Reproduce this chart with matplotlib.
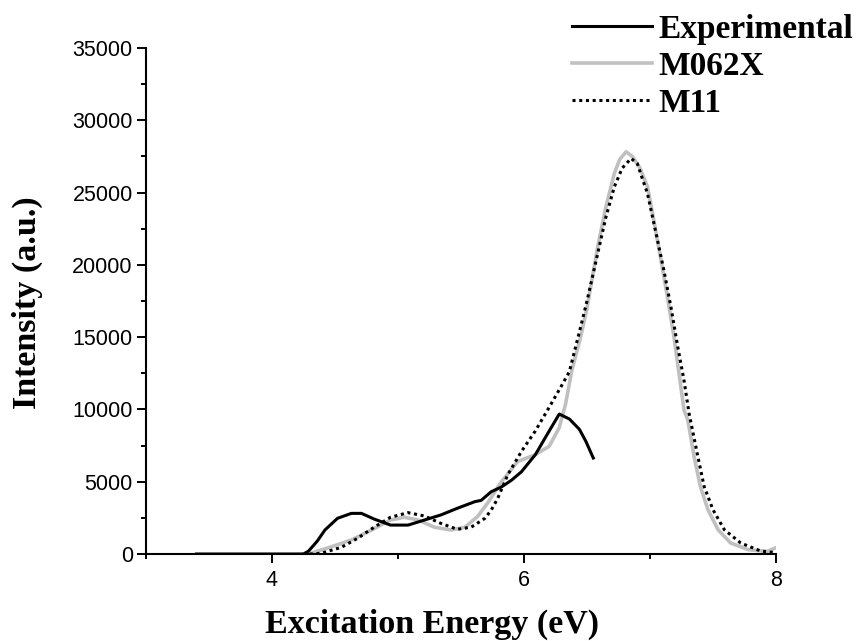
import matplotlib
matplotlib.use("Agg")
import matplotlib.pyplot as plt
from matplotlib.ticker import MultipleLocator

# ---- data ----
exp_x = [3.40, 4.00, 4.25, 4.29, 4.36, 4.42, 4.52, 4.63, 4.71, 4.81, 4.94, 5.08, 5.21, 5.34,
         5.47, 5.61, 5.66, 5.74, 5.82, 5.90, 5.98, 6.09, 6.20, 6.28, 6.36, 6.44, 6.49, 6.55]
exp_y = [0, 0, 0, 200, 900, 1660, 2470, 2810, 2810, 2420, 2000, 2000, 2350, 2700,
         3160, 3620, 3710, 4310, 4630, 5100, 5690, 6870, 8510, 9680, 9340, 8620, 7810, 6640]

m062x_x = [4.25, 4.31, 4.47, 4.63, 4.79, 4.94, 5.05, 5.16, 5.29, 5.42, 5.53, 5.63, 5.71,
           5.82, 5.95, 6.09, 6.20, 6.28, 6.33, 6.38, 6.45, 6.50, 6.585, 6.65, 6.717, 6.76,
           6.81, 6.86, 6.92, 6.98, 7.03, 7.087, 7.14, 7.19, 7.23, 7.27, 7.30, 7.35, 7.40,
           7.46, 7.54, 7.64, 7.78, 7.93, 7.99]
m062x_y = [0, 50, 500, 970, 1660, 2350, 2540, 2350, 1850, 1660, 1850, 2580, 3510,
           4990, 6400, 6870, 7450, 8740, 10380, 12720, 15030, 17000, 21250, 24000, 26330, 27300,
           27820, 27500, 26700, 25400, 23100, 20330, 17700, 15030, 12500, 9960, 9270, 6730, 4660,
           3060, 1680, 760, 300, 180, 400]

m11_x = [4.30, 4.39, 4.55, 4.68, 4.81, 4.94, 5.08, 5.21, 5.34, 5.47, 5.58, 5.69, 5.74,
         5.79, 5.87, 5.98, 6.09, 6.20, 6.30, 6.36, 6.45, 6.50, 6.585, 6.65, 6.717, 6.78,
         6.85, 6.90, 6.93, 6.98, 7.04, 7.11, 7.17, 7.22, 7.27, 7.31, 7.38, 7.43, 7.50,
         7.59, 7.72, 7.88, 7.99]
m11_y = [0, 50, 460, 1090, 1850, 2540, 2860, 2630, 2120, 1710, 1850, 2470, 3040,
         3820, 5460, 7100, 8510, 10150, 11670, 12610, 15720, 17500, 20790, 23300, 25400, 26700,
         27360, 27000, 26200, 24940, 22500, 19640, 16900, 14340, 12000, 9730, 6730, 4660, 3060,
         1680, 760, 200, 100]

labels = ["Experimental", "M062X", "M11"]
x_major = [4, 6, 8]
y_major = [0, 5000, 10000, 15000, 20000, 25000, 30000, 35000]

W, H = 859, 641
fig = plt.figure(figsize=(W / 100, H / 100), dpi=100)
ax = fig.add_axes([146 / W, (H - 554) / H, 630 / W, 506 / H])

l1, = ax.plot(exp_x, exp_y, color="black", lw=2.2, label=labels[0], zorder=3)
l2, = ax.plot(m062x_x, m062x_y, color="#c0c0c0", lw=2.6, label=labels[1], zorder=2)
l3, = ax.plot(m11_x, m11_y, color="black", lw=2.2, linestyle=(0, (1, 1.2)),
              label=labels[2], zorder=2.5)

ax.set_xlim(3, 8)
ax.set_ylim(0, 35000)
ax.set_xticks(x_major)
ax.set_yticks(y_major)
ax.xaxis.set_minor_locator(MultipleLocator(1))
ax.yaxis.set_minor_locator(MultipleLocator(2500))

for s in ["top", "right"]:
    ax.spines[s].set_visible(False)
for s in ["left", "bottom"]:
    ax.spines[s].set_linewidth(1.5)
    ax.spines[s].set_zorder(4)

ax.tick_params(which="major", direction="out", length=6.5, width=1.4,
               labelsize=15.5, pad=3)
ax.tick_params(which="minor", direction="out", length=3.6, width=1.4)
ax.tick_params(axis="x", which="major", pad=5)
for lab in ax.get_xticklabels() + ax.get_yticklabels():
    lab.set_fontfamily("Liberation Sans")

ax.set_xlabel("Excitation Energy (eV)", fontfamily="Liberation Serif",
              fontweight="bold", fontsize=24.5)
ax.set_ylabel("Intensity (a.u.)", fontfamily="Liberation Serif",
              fontweight="bold", fontsize=24.5)
ax.xaxis.set_label_coords(0.454, -0.108)
ax.yaxis.set_label_coords(-0.163, 0.497)

leg = fig.legend(handles=[l1, l2, l3], labels=labels, loc="upper left",
                 bbox_to_anchor=(572 / W, 1 - 14 / H), frameon=False,
                 prop={"family": "Liberation Serif", "weight": "bold", "size": 24},
                 handlelength=2.4, handletextpad=0.2, labelspacing=0.18,
                 borderpad=0, borderaxespad=0)

fig.savefig("out.png", dpi=100)
